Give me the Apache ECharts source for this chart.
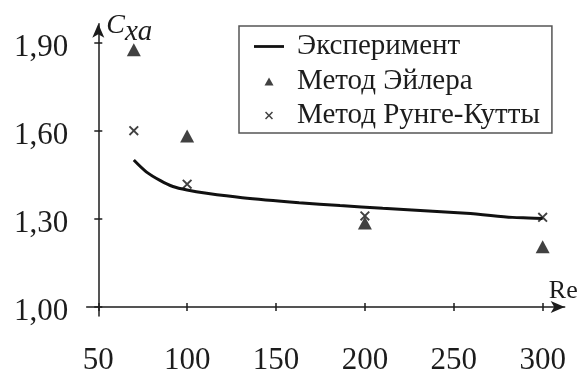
<!DOCTYPE html>
<html>
<head>
<meta charset="utf-8">
<script src="https://cdn.jsdelivr.net/npm/echarts@6/dist/echarts.min.js"></script>
<style>html,body{margin:0;padding:0;background:#fff;}#c{width:581px;height:377px;}</style>
</head>
<body>
<div id="c"></div>
<script>
// ---- data ----
var expRe  = [70, 77, 85, 92, 100, 111, 131, 163, 186, 210, 257, 283, 292, 300];
var expCxa = [1.50, 1.46, 1.43, 1.41, 1.398, 1.387, 1.372, 1.355, 1.345, 1.336, 1.319, 1.305, 1.303, 1.301];
var eulerRe  = [70, 100, 200, 300];
var eulerCxa = [1.875, 1.582, 1.286, 1.205];
var rkRe  = [70, 100, 200, 300];
var rkCxa = [1.60, 1.418, 1.31, 1.305];
var xTicks = [50, 100, 150, 200, 250, 300];
var yTicks = [1.00, 1.30, 1.60, 1.90];
var seriesNames = ['Эксперимент', 'Метод Эйлера', 'Метод Рунге-Кутты'];

function zip(a, b) { return a.map(function (v, i) { return [v, b[i]]; }); }

var FONT = 'Liberation Serif';
var INK = '#1c1c1c';
var crossPath = 'path://M0,1.6 L1.6,0 L6,4.4 L10.4,0 L12,1.6 L7.6,6 L12,10.4 L10.4,12 L6,7.6 L1.6,12 L0,10.4 L4.4,6 Z';
// legend icons drawn in a 30x10 box (corner moveTo points fix the box)
var legLineIcon = 'path://M0,0 M30,10 M0,3.6 L30,3.6 L30,6.4 L0,6.4 Z';
var legTriIcon = 'path://M0,0 M30,10 M10.5,9.5 L15,1.5 L19.5,9.5 Z';
var legCrossIcon = 'path://M0,0 M30,10 M11,2.07 L12.07,1 L15,3.93 L17.93,1 L19,2.07 L16.07,5 L19,7.93 L17.93,9 L15,6.07 L12.07,9 L11,7.93 L13.93,5 Z';

var xBase = {
  type: 'value', min: 43.5, max: 312.4, position: 'bottom', offset: -9,
  splitLine: { show: false }
};
var yBase = {
  type: 'value', min: 0.9694, max: 1.964, position: 'left', offset: -11.6,
  splitLine: { show: false }
};

var option = {
  backgroundColor: '#fff',
  animation: false,
  textStyle: { fontFamily: FONT },
  grid: { left: 86.7, right: 16.3, top: 23.7, bottom: 61 },
  legend: {
    orient: 'vertical', left: 239, top: 26,
    padding: [6, 12, 3, 15],
    itemGap: 5.5,
    itemWidth: 30, itemHeight: 10,
    borderColor: '#555', borderWidth: 1.5, borderRadius: 0,
    data: [
      { name: seriesNames[0], icon: legLineIcon },
      { name: seriesNames[1], icon: legTriIcon },
      { name: seriesNames[2], icon: legCrossIcon }
    ],
    textStyle: { fontFamily: FONT, fontSize: 29, color: INK, lineHeight: 29, padding: [0, 0, 0, 8] }
  },
  xAxis: [
    Object.assign({}, xBase, {
      name: 'Re', nameLocation: 'end', nameGap: 13,
      nameTextStyle: { fontFamily: FONT, fontSize: 26, color: INK, align: 'right', verticalAlign: 'bottom', padding: [0, 0, 3, 0] },
      axisLine: { show: true, lineStyle: { color: INK, width: 1.5 }, symbol: ['none', 'arrow'], symbolSize: [9, 14] },
      axisTick: { show: true, inside: false, length: 4, customValues: xTicks, lineStyle: { color: INK, width: 1.5 } },
      axisLabel: { show: true, customValues: xTicks, margin: 38, fontFamily: FONT, fontSize: 31, color: INK, lineHeight: 31 }
    }),
    Object.assign({}, xBase, {
      axisLine: { show: false },
      axisTick: { show: true, inside: true, length: 4, customValues: xTicks, lineStyle: { color: INK, width: 1.5 } },
      axisLabel: { show: false }
    })
  ],
  yAxis: [
    Object.assign({}, yBase, {
      name: '{c|C}{s|xa}', nameLocation: 'end', nameGap: 12,
      nameTextStyle: {
        align: 'left', verticalAlign: 'top', padding: [0, 0, 0, 8],
        rich: {
          c: { fontFamily: FONT, fontStyle: 'italic', fontSize: 28, color: INK, lineHeight: 30, verticalAlign: 'top' },
          s: { fontFamily: FONT, fontStyle: 'italic', fontSize: 29, color: INK, lineHeight: 30, verticalAlign: 'top', padding: [6, 0, 0, 0] }
        }
      },
      axisLine: { show: true, lineStyle: { color: INK, width: 1.5 }, symbol: ['none', 'arrow'], symbolSize: [9, 14] },
      axisTick: { show: true, inside: false, length: 4, customValues: yTicks, lineStyle: { color: INK, width: 1.5 } },
      axisLabel: {
        show: true, customValues: yTicks, margin: 30, fontFamily: FONT, fontSize: 31, color: INK,
        verticalAlign: 'top', lineHeight: 10,
        formatter: function (v) { return v.toFixed(2).replace('.', ','); }
      }
    }),
    Object.assign({}, yBase, {
      axisLine: { show: false },
      axisTick: { show: true, inside: true, length: 4, customValues: yTicks, lineStyle: { color: INK, width: 1.5 } },
      axisLabel: { show: false }
    })
  ],
  series: [
    {
      name: seriesNames[0], type: 'line', data: zip(expRe, expCxa),
      smooth: 0.3, showSymbol: false, symbol: 'none',
      lineStyle: { color: '#111', width: 3 }, itemStyle: { color: '#111' }
    },
    {
      name: seriesNames[1], type: 'scatter', data: zip(eulerRe, eulerCxa),
      symbol: 'triangle', symbolSize: [14, 13], itemStyle: { color: '#111' }
    },
    {
      name: seriesNames[2], type: 'scatter', data: zip(rkRe, rkCxa),
      symbol: crossPath, symbolSize: 10, itemStyle: { color: '#111' }
    }
  ]
};

var chart = echarts.init(document.getElementById('c'), null, { renderer: 'canvas' });
chart.setOption(option);
</script>
</body>
</html>
